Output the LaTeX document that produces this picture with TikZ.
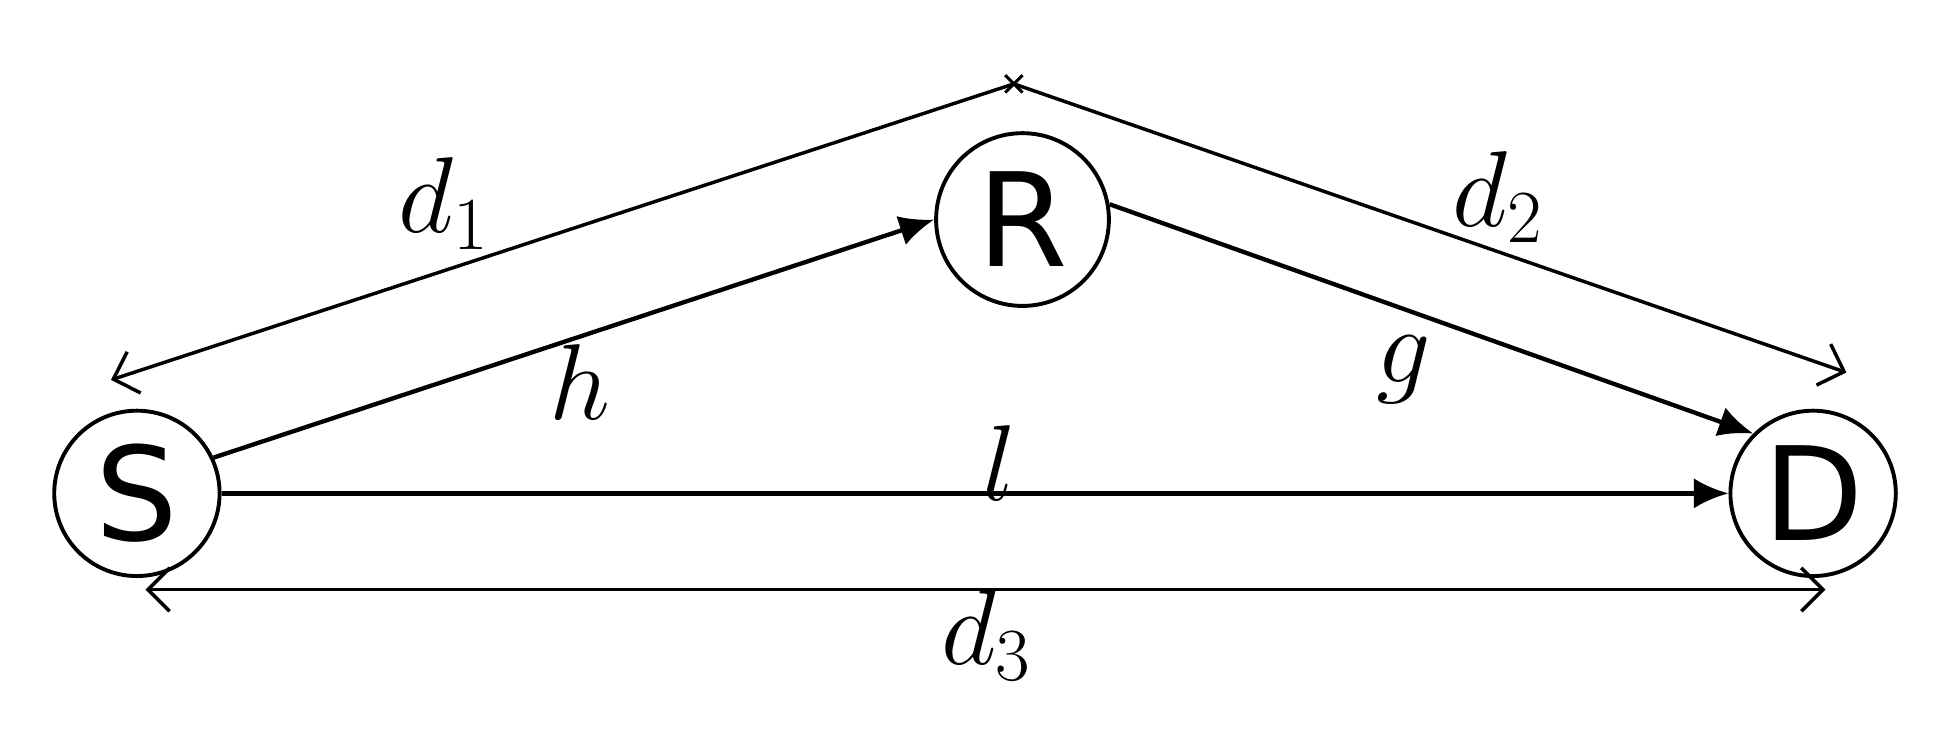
\documentclass[tikz,border=0pt]{standalone}
\usepackage{fontspec}
\setmainfont{Liberation Serif}
\newfontfamily\sff{DejaVu Sans}
\usetikzlibrary{arrows.meta}
\begin{document}
\begin{tikzpicture}[x=0.01cm,y=-0.01cm,
  nd/.style={circle,draw,line width=0.9pt,minimum size=1.34cm,inner sep=0pt,font=\sff\fontsize{30}{34}\selectfont},
  lnk/.style={line width=1pt,-{Latex[length=8pt,width=7pt]}},
  barb/.style={line width=0.8pt,-{Straight Barb[length=5pt]}},
  dim/.style={line width=0.8pt,{Straight Barb[length=5pt]}-{Straight Barb[length=5pt]}},
  lb/.style={font=\fontsize{24}{28}\selectfont}]
\useasboundingbox (0,0) rectangle (1568,609);
\node[nd] (S) at (111,400) {S};
\node[nd,minimum size=1.4cm] (R) at (829,178) {R};
\node[nd] (D) at (1470,400) {D};
\coordinate (A) at (822,68);
\coordinate (L) at (90,308);
\coordinate (Rt) at (1497,302);
\coordinate (b1) at (118,478);
\coordinate (b2) at (1480,478);
\draw[lnk] (S.25) -- (R.west);
\draw[lnk] (R.10) -- (D.135);
\draw[lnk] (S) -- (D);
\draw[barb] (A) -- (L);
\draw[barb] (A) -- (Rt);
\draw[line width=0.7pt] (A)+(-7,-7) -- +(7,7) (A)+(-7,7) -- +(7,-7);
\draw[dim] (b1) -- (b2);
\node[lb] (t1) at (360,165) {$d_1$};
\node[lb] (t2) at (1215,160) {$d_2$};
\node[lb] (th) at (470,310) {$h$};
\node[lb] (tg) at (1138,300) {$g$};
\node[lb] (tl) at (810,375) {$l$};
\node[lb] (t3) at (800,515) {$d_3$};
\end{tikzpicture}
\end{document}
